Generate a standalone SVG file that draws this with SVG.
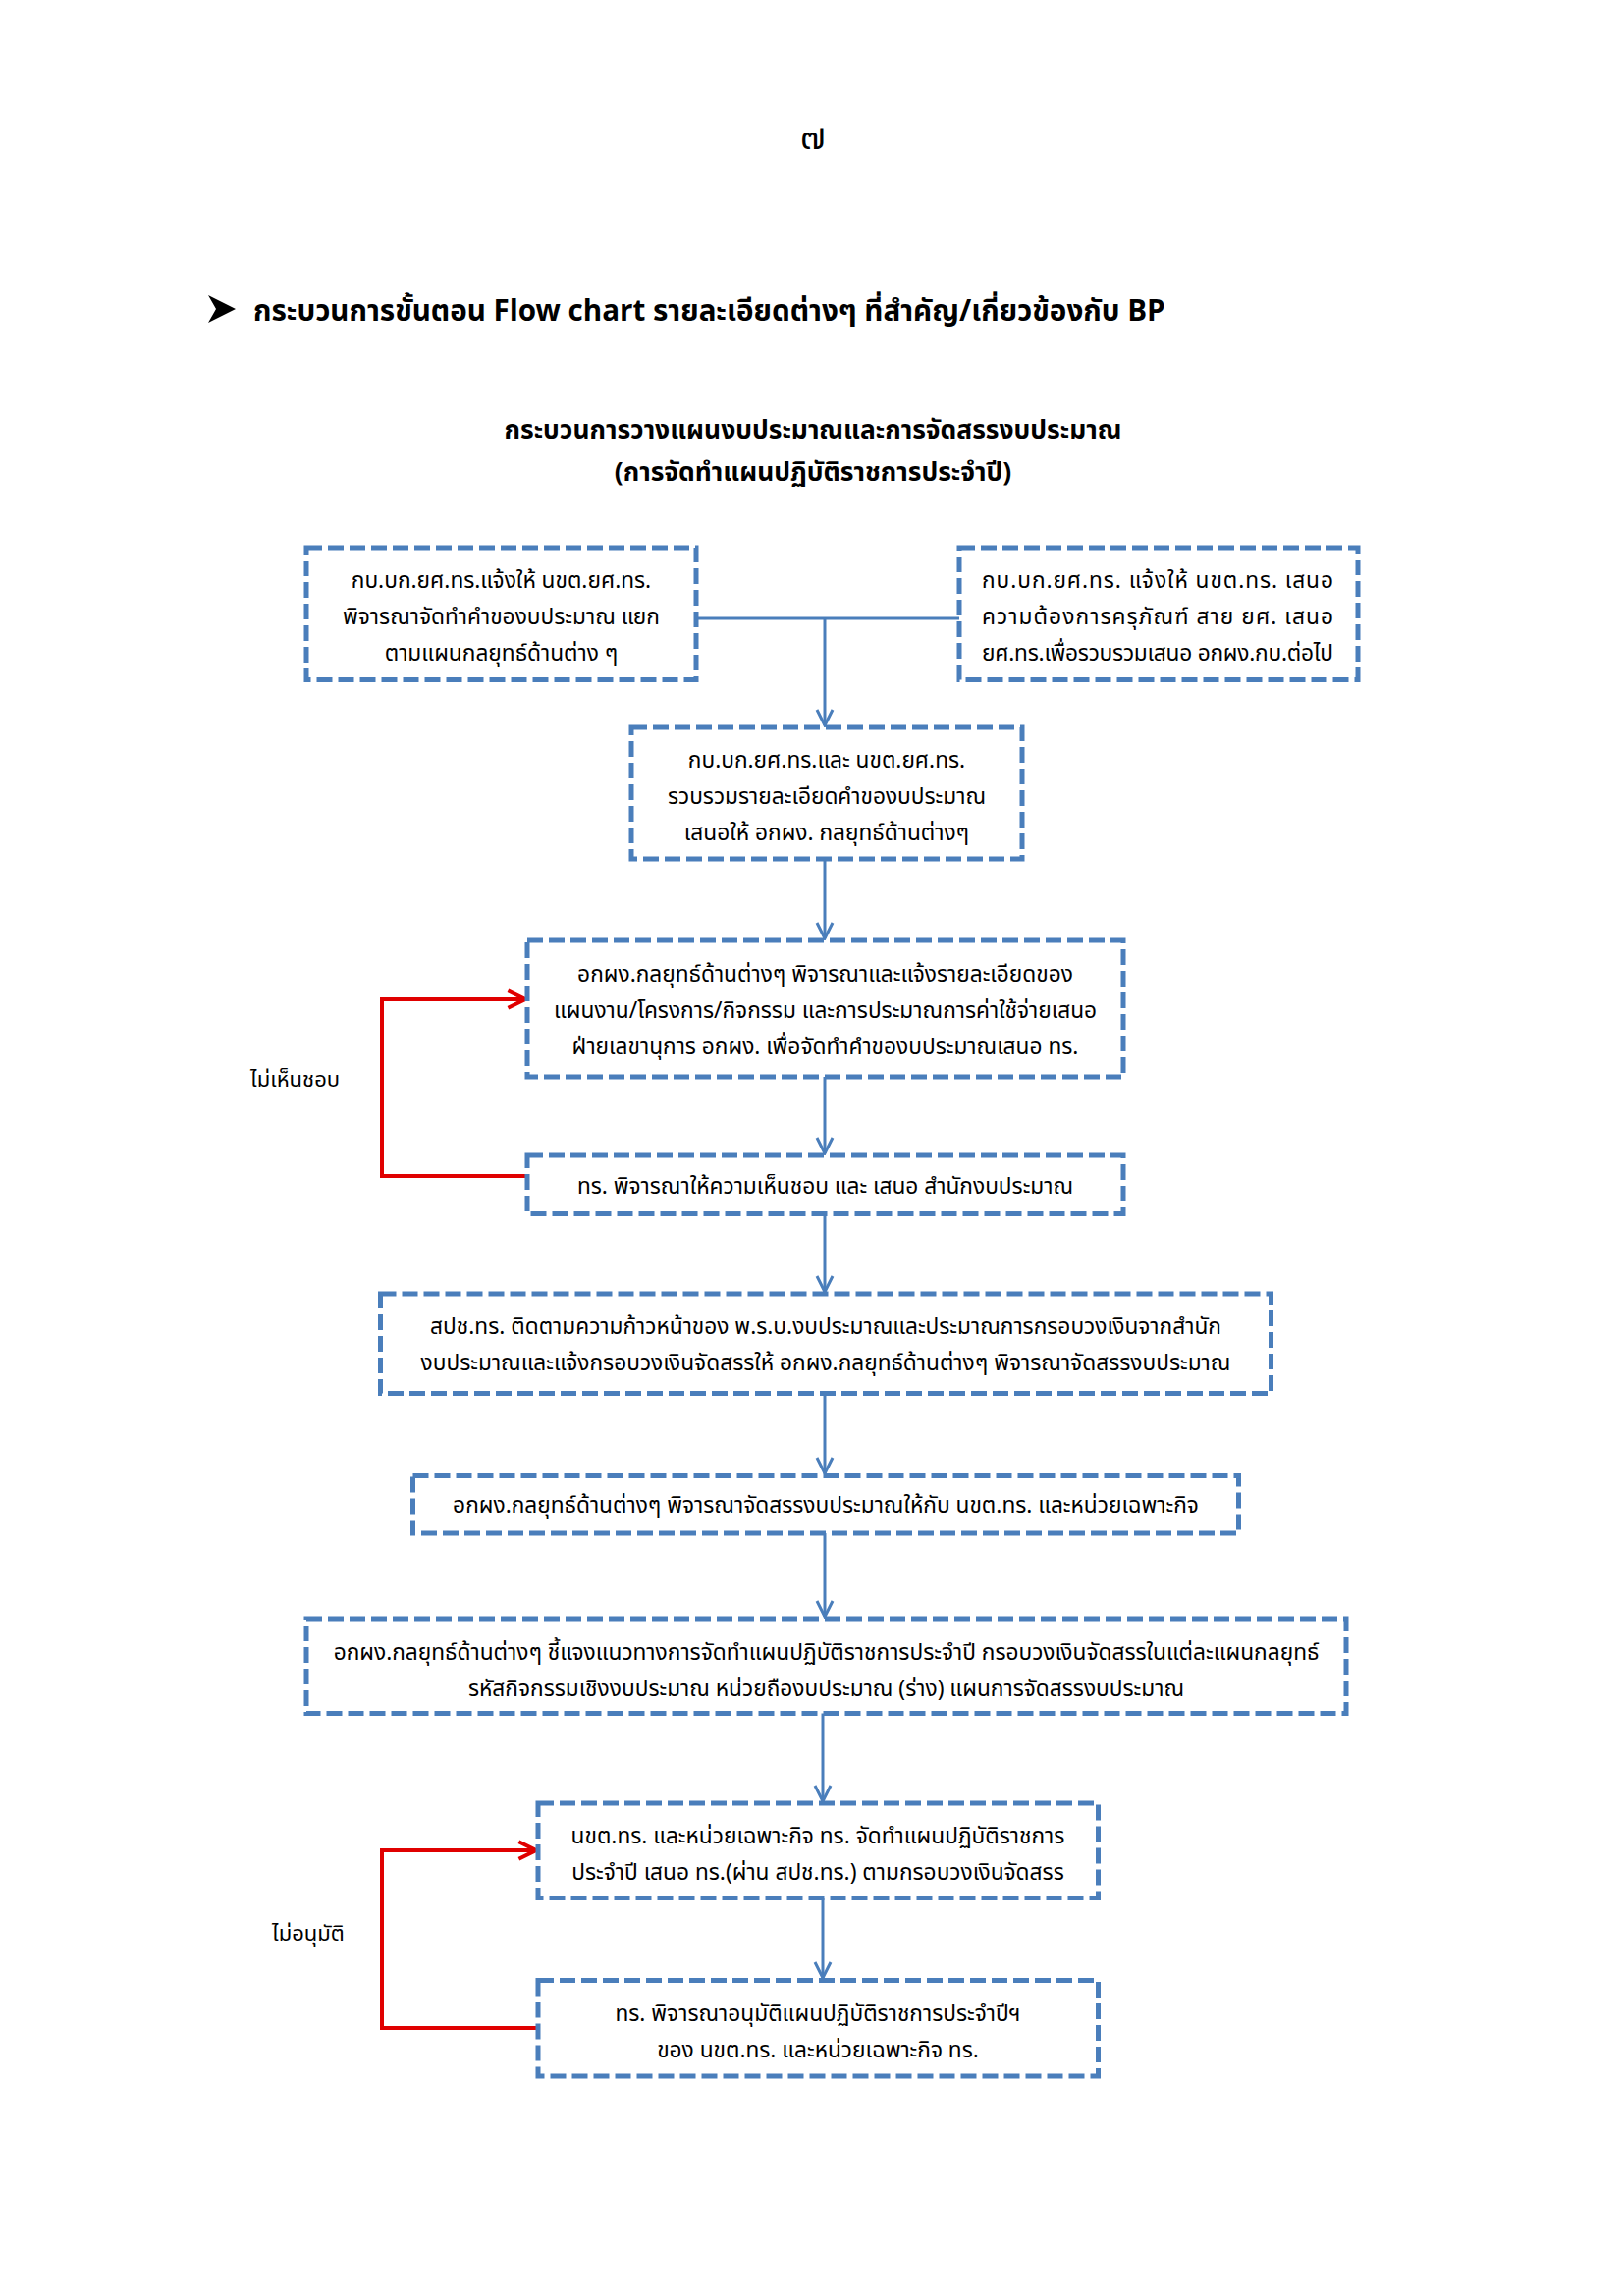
<svg xmlns="http://www.w3.org/2000/svg" width="1654" height="2339" viewBox="0 0 1654 2339">
<defs>
<style>
.box{fill:#fff;stroke:#4a7ebb;stroke-width:5;stroke-dasharray:16 6}
.t{font-family:"Noto Sans Thai","Noto Sans","DejaVu Sans",sans-serif;font-size:22.7px;fill:#000;text-anchor:middle}
.j{font-family:"Noto Sans Thai","Noto Sans","DejaVu Sans",sans-serif;font-size:22.7px;fill:#000}
.lbl{font-family:"Noto Sans Thai","Noto Sans","DejaVu Sans",sans-serif;font-size:22px;fill:#000}
.blue{stroke:#4a7ebb;stroke-width:3;fill:none}
.red{stroke:#e00000;stroke-width:4;fill:none}
.h{font-family:"Noto Sans Thai","Noto Sans","DejaVu Sans",sans-serif;font-weight:bold;fill:#000}
</style>
<marker id="ab" viewBox="0 0 20 20" refX="18" refY="10" markerWidth="20" markerHeight="20" markerUnits="userSpaceOnUse" orient="auto">
<path d="M2,2 L18,10 L2,18" fill="none" stroke="#4a7ebb" stroke-width="3"/>
</marker>
<marker id="ar" viewBox="0 0 20 20" refX="18" refY="10" markerWidth="22" markerHeight="22" markerUnits="userSpaceOnUse" orient="auto">
<path d="M2,2 L18,10 L2,18" fill="none" stroke="#e00000" stroke-width="3.5"/>
</marker>
</defs>
<rect width="1654" height="2339" fill="#fff"/>
<text x="828" y="152" font-family="'Noto Sans Thai','Noto Sans','DejaVu Sans',sans-serif" font-size="36" text-anchor="middle">๗</text>
<path d="M212,301 L240,315 L212,329 L220,315 Z" fill="#000"/>
<text x="258" y="327" class="h" font-size="29.6">กระบวนการขั้นตอน Flow chart รายละเอียดต่างๆ ที่สำคัญ/เกี่ยวข้องกับ BP</text>
<text x="828" y="447" class="h" font-size="26.4" text-anchor="middle">กระบวนการวางแผนงบประมาณและการจัดสรรงบประมาณ</text>
<text x="828" y="490" class="h" font-size="26.4" text-anchor="middle">(การจัดทำแผนปฏิบัติราชการประจำปี)</text>

<g id="connectors">
<path class="blue" d="M709,630 L977,630"/>
<path class="blue" d="M840,630 L840,739" marker-end="url(#ab)"/>
<path class="blue" d="M840,875 L840,956" marker-end="url(#ab)"/>
<path class="blue" d="M840,1097 L840,1175" marker-end="url(#ab)"/>
<path class="blue" d="M840,1236 L840,1316" marker-end="url(#ab)"/>
<path class="blue" d="M840,1420 L840,1501" marker-end="url(#ab)"/>
<path class="blue" d="M840,1562 L840,1647" marker-end="url(#ab)"/>
<path class="blue" d="M838,1745 L838,1835" marker-end="url(#ab)"/>
<path class="blue" d="M838,1934 L838,2015" marker-end="url(#ab)"/>
<path class="red" d="M537,1198 L389,1198 L389,1018 L535,1018" marker-end="url(#ar)"/>
<path class="red" d="M548,2066 L389,2066 L389,1885 L546,1885" marker-end="url(#ar)"/>
</g>

<g id="n1"><rect class="box" x="312" y="558" width="397" height="134.5"/>
<text class="t" x="510.5" y="599">กบ.บก.ยศ.ทร.แจ้งให้ นขต.ยศ.ทร.</text>
<text class="t" x="510.5" y="636">พิจารณาจัดทำคำของบประมาณ แยก</text>
<text class="t" x="510.5" y="673">ตามแผนกลยุทธ์ด้านต่าง ๆ</text></g>

<g id="n2"><rect class="box" x="977" y="558" width="406" height="134.5"/>
<text class="j" x="1000" y="599" textLength="358" lengthAdjust="spacing">กบ.บก.ยศ.ทร. แจ้งให้ นขต.ทร. เสนอ</text>
<text class="j" x="1000" y="636" textLength="358" lengthAdjust="spacing">ความต้องการครุภัณฑ์ สาย ยศ. เสนอ</text>
<text class="j" x="1000" y="673" textLength="358" lengthAdjust="spacing">ยศ.ทร.เพื่อรวบรวมเสนอ อกผง.กบ.ต่อไป</text></g>

<g id="n3"><rect class="box" x="643" y="741" width="398" height="134"/>
<text class="t" x="842" y="782">กบ.บก.ยศ.ทร.และ นขต.ยศ.ทร.</text>
<text class="t" x="842" y="819">รวบรวมรายละเอียดคำของบประมาณ</text>
<text class="t" x="842" y="856">เสนอให้ อกผง. กลยุทธ์ด้านต่างๆ</text></g>

<g id="n4"><rect class="box" x="537" y="958" width="607" height="139"/>
<text class="t" x="840.5" y="1000">อกผง.กลยุทธ์ด้านต่างๆ พิจารณาและแจ้งรายละเอียดของ</text>
<text class="t" x="840.5" y="1037">แผนงาน/โครงการ/กิจกรรม และการประมาณการค่าใช้จ่ายเสนอ</text>
<text class="t" x="840.5" y="1074">ฝ่ายเลขานุการ อกผง. เพื่อจัดทำคำของบประมาณเสนอ ทร.</text></g>

<g id="n5"><rect class="box" x="537" y="1177" width="607" height="59.5"/>
<text class="t" x="840.5" y="1215.5">ทร. พิจารณาให้ความเห็นชอบ และ เสนอ สำนักงบประมาณ</text></g>

<g id="n6"><rect class="box" x="387.5" y="1318" width="907" height="101.5"/>
<text class="t" x="841" y="1359">สปช.ทร. ติดตามความก้าวหน้าของ พ.ร.บ.งบประมาณและประมาณการกรอบวงเงินจากสำนัก</text>
<text class="t" x="841" y="1396">งบประมาณและแจ้งกรอบวงเงินจัดสรรให้ อกผง.กลยุทธ์ด้านต่างๆ พิจารณาจัดสรรงบประมาณ</text></g>

<g id="n7"><rect class="box" x="420.5" y="1503.5" width="841" height="58.5"/>
<text class="t" x="841" y="1541">อกผง.กลยุทธ์ด้านต่างๆ พิจารณาจัดสรรงบประมาณให้กับ นขต.ทร. และหน่วยเฉพาะกิจ</text></g>

<g id="n8"><rect class="box" x="312" y="1649" width="1059" height="96.5"/>
<text class="t" x="841.5" y="1690.5">อกผง.กลยุทธ์ด้านต่างๆ ชี้แจงแนวทางการจัดทำแผนปฏิบัติราชการประจำปี กรอบวงเงินจัดสรรในแต่ละแผนกลยุทธ์</text>
<text class="t" x="841.5" y="1727.5">รหัสกิจกรรมเชิงงบประมาณ หน่วยถืองบประมาณ (ร่าง) แผนการจัดสรรงบประมาณ</text></g>

<g id="n9"><rect class="box" x="548" y="1837" width="570.5" height="96.5"/>
<text class="t" x="833" y="1878">นขต.ทร. และหน่วยเฉพาะกิจ ทร. จัดทำแผนปฏิบัติราชการ</text>
<text class="t" x="833" y="1915">ประจำปี เสนอ ทร.(ผ่าน สปช.ทร.) ตามกรอบวงเงินจัดสรร</text></g>

<g id="n10"><rect class="box" x="548" y="2017.5" width="570.5" height="97.5"/>
<text class="t" x="833" y="2059">ทร. พิจารณาอนุมัติแผนปฏิบัติราชการประจำปีฯ</text>
<text class="t" x="833" y="2096">ของ นขต.ทร. และหน่วยเฉพาะกิจ ทร.</text></g>

<text class="lbl" x="255" y="1107">ไม่เห็นชอบ</text>
<text class="lbl" x="277" y="1976.5">ไม่อนุมัติ</text>
</svg>
